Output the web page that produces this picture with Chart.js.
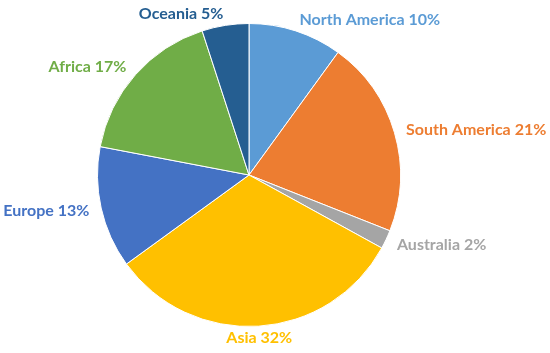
<!DOCTYPE html>
<html>
<head>
<meta charset="utf-8">
<script src="https://cdn.jsdelivr.net/npm/chart.js@4"></script>
<style>
  html, body { margin: 0; padding: 0; background: #fff; }
  #wrap { width: 550px; height: 353px; }
</style>
</head>
<body>
<div id="wrap"><canvas id="pie"></canvas></div>
<script>
const regions = ['North America', 'South America', 'Australia', 'Asia', 'Europe', 'Africa', 'Oceania'];
const shares = [10, 21, 2, 32, 13, 17, 5];
const colours = ['#5B9BD5', '#ED7D31', '#A5A5A5', '#FFC000', '#4472C4', '#70AD47', '#255E91'];

// labels outside the end of each slice, in slice colour
const outsideLabels = {
  id: 'outsideLabels',
  afterDatasetsDraw(chart) {
    const ctx = chart.ctx;
    const meta = chart.getDatasetMeta(0);
    ctx.save();
    ctx.font = 'bold 16px Lato, "Open Sans", sans-serif';
    ctx.textBaseline = 'middle';
    meta.data.forEach((arc, i) => {
      const mid = (arc.startAngle + arc.endAngle) / 2;
      const r = arc.outerRadius + 12;
      const px = arc.x + Math.cos(mid) * r;
      const py = arc.y + Math.sin(mid) * r;
      const c = Math.cos(mid);
      ctx.textAlign = c > 0.1 ? 'left' : (c < -0.1 ? 'right' : 'center');
      ctx.fillStyle = colours[i];
      ctx.fillText(regions[i] + ' ' + shares[i] + '%', px, py);
    });
    ctx.restore();
  }
};

new Chart(document.getElementById('pie'), {
  type: 'pie',
  data: {
    labels: regions,
    datasets: [{
      data: shares,
      backgroundColor: colours,
      borderColor: '#ffffff',
      borderWidth: 1
    }]
  },
  options: {
    responsive: true,
    maintainAspectRatio: false,
    animation: false,
    layout: { padding: { top: 23, bottom: 26, left: 0, right: 52 } },
    plugins: {
      legend: { display: false },
      tooltip: { enabled: false }
    }
  },
  plugins: [outsideLabels]
});
</script>
</body>
</html>
